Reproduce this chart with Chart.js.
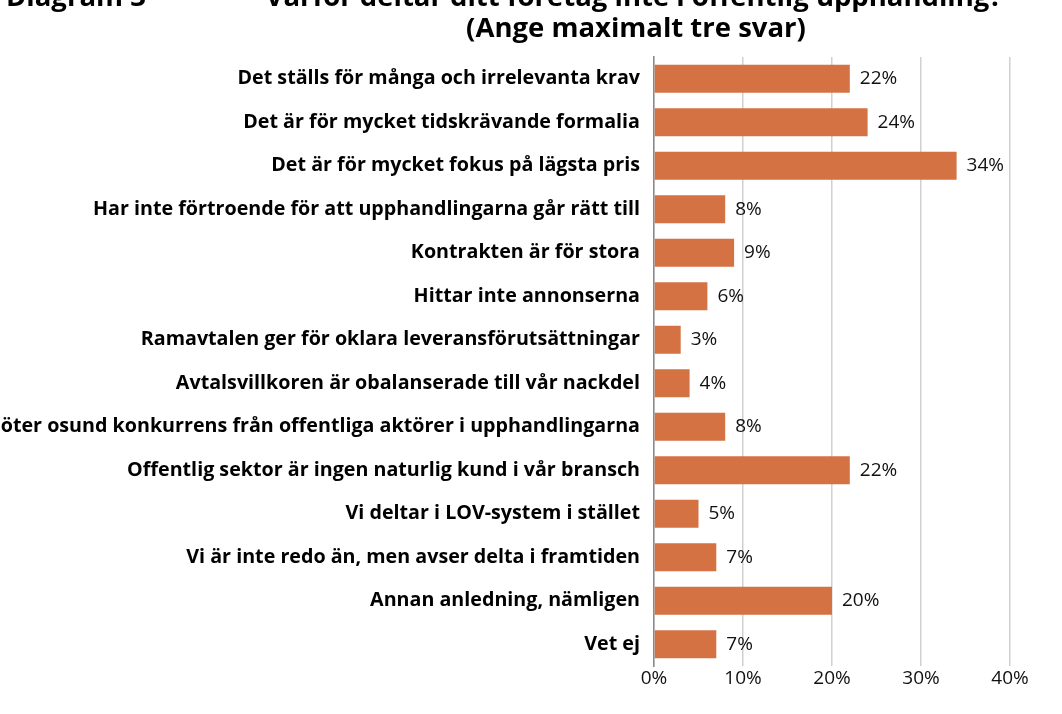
<!DOCTYPE html>
<html>
<head>
<meta charset="utf-8">
<script src="https://cdn.jsdelivr.net/npm/chart.js@4"></script>
<style>
  html, body { margin: 0; padding: 0; background: #fff; }
  #wrap { width: 1062px; height: 714px; }
</style>
</head>
<body>
<div id="wrap"><canvas id="chart"></canvas></div>
<script>
// Data
const categories = [
    'Det ställs för många och irrelevanta krav',
    'Det är för mycket tidskrävande formalia',
    'Det är för mycket fokus på lägsta pris',
    'Har inte förtroende för att upphandlingarna går rätt till',
    'Kontrakten är för stora',
    'Hittar inte annonserna',
    'Ramavtalen ger för oklara leveransförutsättningar',
    'Avtalsvillkoren är obalanserade till vår nackdel',
    'Möter osund konkurrens från offentliga aktörer i upphandlingarna',
    'Offentlig sektor är ingen naturlig kund i vår bransch',
    'Vi deltar i LOV-system i stället',
    'Vi är inte redo än, men avser delta i framtiden',
    'Annan anledning, nämligen',
    'Vet ej'
];
const shares = [22, 24, 34, 8, 9, 6, 3, 4, 8, 22, 5, 7, 20, 7];
const xTicks = [0, 10, 20, 30, 40];
const titleLeft = 'Diagram 3';
const titleLines = ['Varför deltar ditt företag inte i offentlig upphandling?', '(Ange maximalt tre svar)'];

// Title drawn at fixed spots like the original
const titlePlugin = {
    id: 'titleText',
    afterDraw(chart) {
        const ctx = chart.ctx;
        ctx.save();
        ctx.fillStyle = '#000';
        ctx.font = 'bold 27.5px "Open Sans"';
        ctx.textBaseline = 'middle';
        ctx.textAlign = 'left';
        ctx.fillText(titleLeft, 6, -2);
        ctx.textAlign = 'center';
        ctx.fillText(titleLines[0], 634, -2);
        ctx.fillText(titleLines[1], 636, 29);
        ctx.restore();
    }
};

// Value labels next to the bars
const valueLabels = {
    id: 'valueLabels',
    afterDatasetsDraw(chart) {
        const ctx = chart.ctx;
        const meta = chart.getDatasetMeta(0);
        ctx.save();
        ctx.fillStyle = '#111';
        ctx.font = '19px "Open Sans"';
        ctx.textBaseline = 'middle';
        ctx.textAlign = 'left';
        meta.data.forEach((bar, i) => {
            ctx.fillText(shares[i] + '%', bar.x + 10, bar.y);
        });
        ctx.restore();
    }
};

const ctx = document.getElementById('chart').getContext('2d');
const chart = new Chart(ctx, {
    type: 'bar',
    data: {
        labels: categories,
        datasets: [{
            data: shares,
            backgroundColor: '#D47244',
            borderWidth: 0,
            categoryPercentage: 0.644,
            barPercentage: 1
        }]
    },
    options: {
        indexAxis: 'y',
        responsive: true,
        maintainAspectRatio: false,
        animation: false,
        layout: {
            padding: { top: 57, right: 52, bottom: 8, left: 0 }
        },
        scales: {
            x: {
                min: 0,
                max: 40,
                afterBuildTicks(scale) {
                    scale.ticks = xTicks.map(v => ({ value: v }));
                },
                afterFit(scale) {
                    scale.height = 40;
                },
                grid: {
                    color: '#d0d0d0',
                    lineWidth: 1.5,
                    drawTicks: false
                },
                border: { display: false },
                ticks: {
                    padding: 1,
                    color: '#111',
                    font: { family: 'Open Sans', size: 19 },
                    callback: v => v + '%'
                }
            },
            y: {
                afterFit(scale) {
                    scale.width = 654;
                },
                grid: { display: false, drawTicks: false },
                border: { display: true, color: '#8a8a8a', width: 1.5 },
                ticks: {
                    padding: 14,
                    color: '#000',
                    autoSkip: false,
                    font: { family: 'Open Sans', size: 19.7, weight: 'bold' }
                }
            }
        },
        plugins: {
            legend: { display: false },
            tooltip: { enabled: false }
        }
    },
    plugins: [titlePlugin, valueLabels]
});
</script>
</body>
</html>
